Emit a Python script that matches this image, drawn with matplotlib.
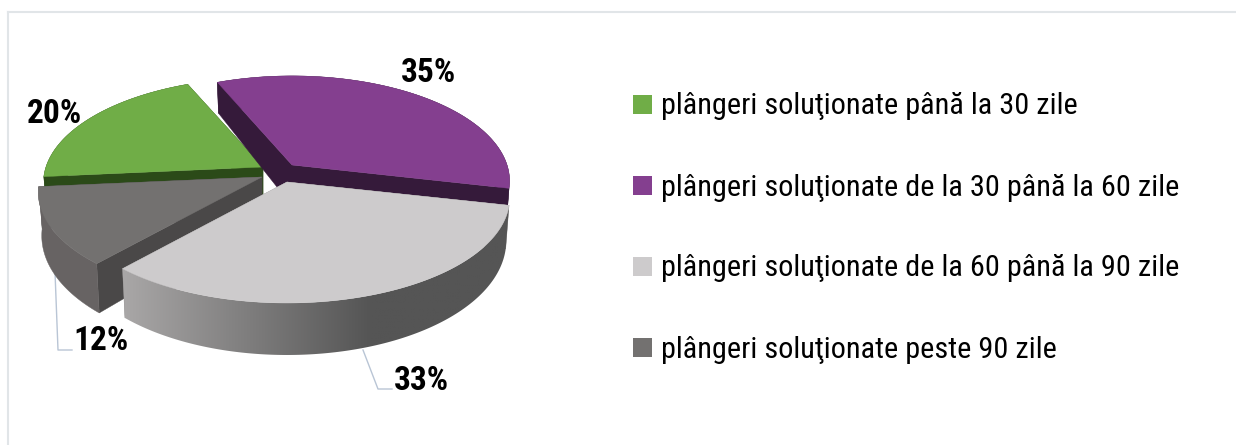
import numpy as np
import matplotlib
matplotlib.use("Agg")
import matplotlib.pyplot as plt
from matplotlib.colors import LinearSegmentedColormap
from matplotlib.patches import Polygon

labels = ["plângeri soluţionate până la 30 zile",
          "plângeri soluţionate de la 30 până la 60 zile",
          "plângeri soluţionate de la 60 până la 90 zile",
          "plângeri soluţionate peste 90 zile"]
values = [20, 35, 33, 12]
pct_text = ["20%", "35%", "33%", "12%"]

tops = ["#70ad47", "#843f8f", "#cdcbcc", "#737170"]
cuts = ["#2b4a18", "#351a3a", "#8a8888", "#4a4848"]
walls = ["#2b4a18", "#351a3a", "#555555", "#676363"]
apex = [(263, 167), (292, 165), (287, 182), (262, 177)]
radius = [217, 215, 220, 221]
# green and purple at the back, then the dark slice, the light one in front
order = [0, 1, 3, 2]

K, A = 102.6, 0.152


def project(t, cx, cy, R):
    X, Y = np.cos(t), np.sin(t)
    w = 1 - A * Y
    return cx + R * X / w, cy + K * Y / w, Y


def lower(x, y, Y, cx):
    return cx + (x - cx) * 0.985, y + 41 + 11 * Y


fig = plt.figure(figsize=(12.36, 4.45), dpi=100)
ax = fig.add_axes([0, 0, 1, 1])

ax.plot([8, 8], [445, 12], color="#e1e5e8", lw=1.5)
ax.plot([8, 1236], [12, 12], color="#e1e5e8", lw=1.5)

# angles grow clockwise on screen, first slice starts left of the middle
edges = np.deg2rad(174.7 + 3.6 * np.cumsum([0] + values))
for n, i in enumerate(order):
    z = 3 + n * 2
    cx, cy = apex[i]
    t = np.linspace(edges[i], edges[i + 1], 200)
    x, y, Y = project(t, cx, cy, radius[i])
    bx, by = lower(x, y, Y, cx)
    top = np.column_stack([np.r_[cx, x], np.r_[cy, y]])
    wall = np.column_stack([np.r_[x, bx[::-1]], np.r_[y, by[::-1]]])
    for j in [0, -1]:
        cut = [(cx, cy), (x[j], y[j]), (bx[j], by[j]), (cx, cy + 41)]
        ax.add_patch(Polygon(cut, fc=cuts[i], ec=cuts[i], lw=0.3, zorder=z))
    if i == 2:
        patch = Polygon(wall, fc="none", ec="none", zorder=z)
        ax.add_patch(patch)
        cmap = LinearSegmentedColormap.from_list("w", ["#aaa8a8", "#555555", "#555555"])
        grad = np.linspace(0, 1, 256).reshape(1, -1)
        im = ax.imshow(grad, cmap=cmap, extent=(120, 620, 370, 200), aspect="auto", zorder=z)
        im.set_clip_path(patch)
    else:
        ax.add_patch(Polygon(wall, fc=walls[i], ec=walls[i], lw=0.3, zorder=z))
    ax.add_patch(Polygon(top, fc=tops[i], ec=tops[i], lw=0.3, zorder=z + 1))

ax.set_xlim(0, 1236)
ax.set_ylim(445, 0)
ax.axis("off")

fam = ["Roboto Condensed", "Barlow Condensed"]
ax.plot([55, 58, 72], [272, 350, 350], color="#b9c5d5", lw=1, zorder=2)
ax.plot([363, 378, 392], [350, 389, 389], color="#b9c5d5", lw=1, zorder=2)

pos = [(55, 114), (428, 73), (421, 381), (101, 341)]
for s, (px, py) in zip(pct_text, pos):
    ax.text(px, py, s, family=fam, weight="bold", fontsize=24, ha="center", va="center", color="#000000", zorder=20)

row_y = [104.5, 185.5, 266.5, 347.5]
for lab, col, ry in zip(labels, tops, row_y):
    ax.add_patch(Polygon([(633, ry - 9.5), (652, ry - 9.5), (652, ry + 9.5), (633, ry + 9.5)], fc=col, ec="none"))
    ax.text(661, ry + 10, lab, family=fam, fontsize=21.8, va="baseline", ha="left", color="#000000")

fig.savefig("out.png", dpi=100)
